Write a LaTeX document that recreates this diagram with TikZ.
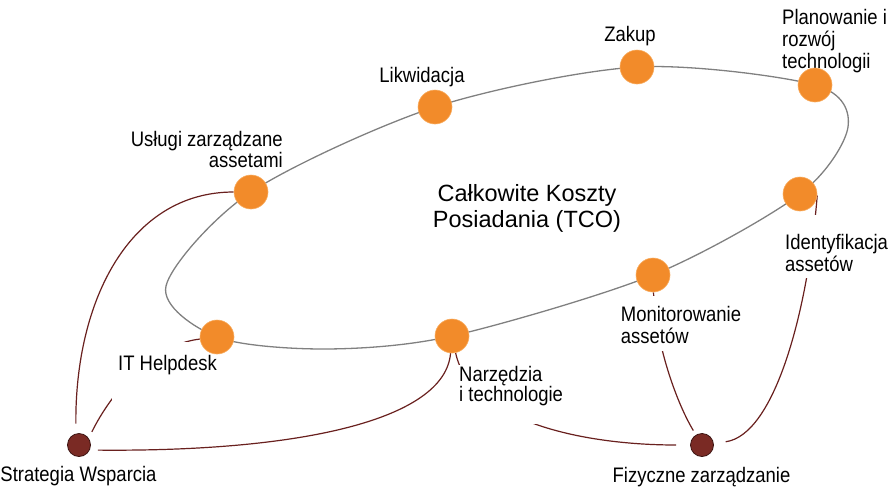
\documentclass[tikz,border=0pt]{standalone}
\usepackage{fontspec}
\setmainfont{Liberation Sans}
\newfontfamily\labfont{Liberation Sans}[FakeStretch=0.88]
\pgfdeclarelayer{back}
\pgfdeclarelayer{mid}
\pgfsetlayers{back,mid,main}
\definecolor{dotorange}{RGB}{242,139,42}
\definecolor{dotedge}{RGB}{248,172,95}
\definecolor{hubfill}{RGB}{122,42,36}
\definecolor{hubedge}{RGB}{60,20,18}
\definecolor{connc}{RGB}{105,32,30}
\definecolor{ringc}{RGB}{128,128,128}
\newcommand\linesL[1]{\vtop{\halign{##\hfil\cr#1\crcr}}}
\newcommand\linesR[1]{\vtop{\halign{\hfil##\cr#1\crcr}}}
\newcommand\linesC[1]{\vtop{\halign{\hfil##\hfil\cr#1\crcr}}}
\tikzset{
  dot/.style={circle, fill=dotorange, draw=dotedge, line width=0.6pt, minimum size=34pt, inner sep=0pt},
  hub/.style={circle, fill=hubfill, draw=hubedge, line width=0.8pt, minimum size=23pt, inner sep=0pt},
  lab/.style={font=\labfont\fontsize{21}{22.4}\selectfont, inner sep=0pt, text=black},
  cover/.style={fill=white},
  tco/.style={font=\fontsize{23.5}{25.6}\selectfont, inner sep=0pt, text=black},
  ring/.style={draw=ringc, line width=1.3pt},
  conn/.style={draw=connc, line width=1.2pt}
}
\begin{document}
\begin{tikzpicture}[x=1pt, y=-1pt]
\useasboundingbox (0,0) rectangle (892,488);
% circles
\node[dot] (usl) at (251,192) {};
\node[dot] (lik) at (435,107) {};
\node[dot] (zak) at (637,67) {};
\node[dot] (plan) at (815,85) {};
\node[dot] (ide) at (800,194) {};
\node[dot] (mon) at (653,275) {};
\node[dot] (nar) at (452,336) {};
\node[dot] (ith) at (217,337) {};
\node[hub] (strat) at (79,445) {};
\node[hub] (fiz) at (702,445) {};
\coordinate (eR) at (848,127);
\coordinate (eB) at (325,349);
\coordinate (eL) at (166,286);
\begin{pgfonlayer}{back}
\draw[ring] plot[smooth cycle] coordinates {(usl.center) (lik.center) (zak.center) (plan.center) (eR) (ide.center) (mon.center) (nar.center) (eB) (ith.center) (eL)};
\draw[conn, shorten <=10pt] (strat.105) .. controls (75,300) and (130,192) .. (usl);
\draw[conn, shorten <=7pt] (strat.35) .. controls (110,395) and (150,345) .. (ith);
\draw[conn, shorten <=8pt] (strat.-25) .. controls (300,452) and (445,420) .. (nar);
\draw[conn, shorten <=14pt] (fiz) .. controls (580,445) and (470,420) .. (nar);
\draw[conn, shorten <=5pt] (fiz) .. controls (675,400) and (655,340) .. (mon);
\draw[conn, shorten <=12pt] (fiz) .. controls (775,435) and (808,310) .. (ide.-5);
\end{pgfonlayer}
\begin{pgfonlayer}{mid}
\node[lab, anchor=base west] (tPlan) at (782,24) {\linesL{Planowanie i\cr rozwój\cr technologii}};
\node[lab, anchor=base] (tZak) at (630,41) {Zakup};
\node[lab, anchor=base] (tLik) at (422,82) {Likwidacja};
\node[lab, anchor=base east, font=\labfont\fontsize{21}{21.3}\selectfont] (tUsl) at (283,146) {\linesR{Usługi zarządzane\cr assetami}};
\node[tco, anchor=base] (tTCO) at (527,201.7) {\linesC{Całkowite Koszty\cr Posiadania (TCO)}};
\node[lab, cover, anchor=base west, inner xsep=2pt, text height=34pt, text depth=29pt] (tIde) at (783,249.3) {\linesL{Identyfikacja\cr assetów}};
\node[lab, cover, anchor=base west, inner xsep=3pt, text height=25pt, text depth=30pt] (tMon) at (617.7,321) {\linesL{Monitorowanie\cr assetów}};
\node[lab, cover, anchor=base west, inner xsep=2pt, text height=16pt, text depth=43pt, font=\labfont\fontsize{21}{19.5}\selectfont] (tNar) at (457,381) {\linesL{Narzędzia\cr i technologie}};
\node[lab, cover, anchor=base, inner xsep=6pt, text height=28pt, text depth=31pt] (tIT) at (167.5,370) {IT Helpdesk};
\node[lab, anchor=base] (tStr) at (78.5,481.7) {Strategia Wsparcia};
\node[lab, anchor=base] (tFiz) at (701.5,482.3) {Fizyczne zarządzanie};
\end{pgfonlayer}
\end{tikzpicture}
\end{document}
